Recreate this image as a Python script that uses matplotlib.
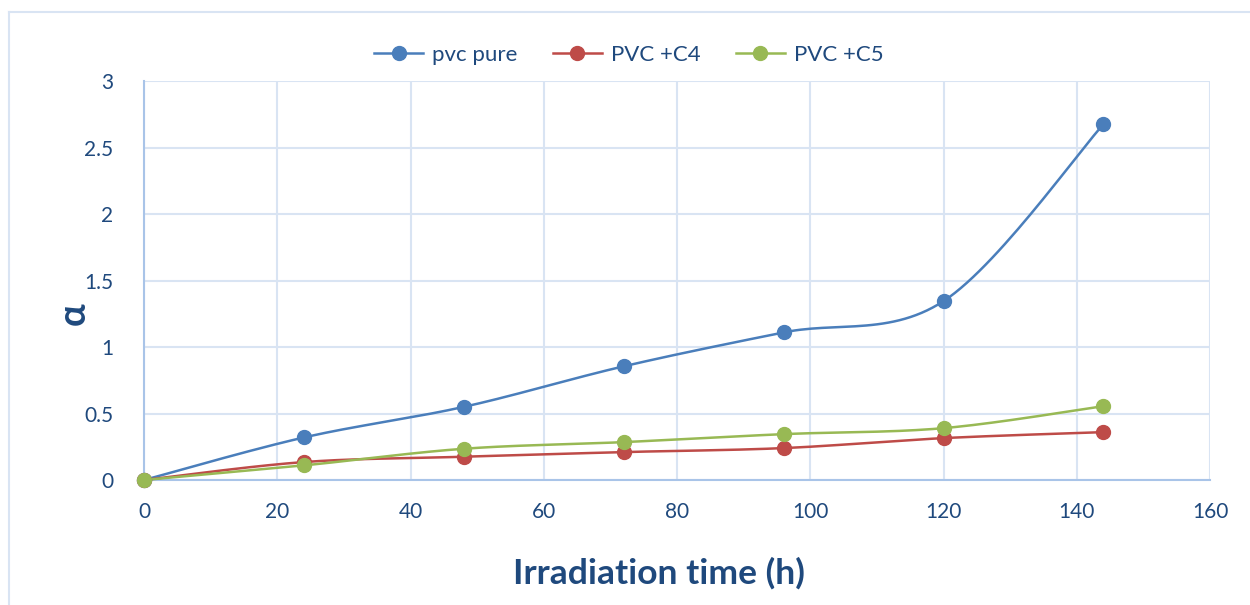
import numpy as np
import matplotlib
matplotlib.use("Agg")
import matplotlib.pyplot as plt
from matplotlib.lines import Line2D

plt.rcParams['font.family'] = ['Lato', 'DejaVu Sans']

# Daten
hours = [0, 24, 48, 72, 96, 120, 144]
pvc_pure = [0.0, 0.32, 0.55, 0.855, 1.11, 1.345, 2.675]
pvc_c4 = [0.0, 0.135, 0.175, 0.21, 0.24, 0.315, 0.36]
pvc_c5 = [0.0, 0.11, 0.235, 0.285, 0.345, 0.39, 0.555]
labels = ["pvc pure", "PVC +C4", "PVC +C5"]
colors = ["#4A7EBB", "#BE4B48", "#98B954"]

text_color = "#1F497D"
grid_color = "#D9E4F3"
spine_color = "#A9C4E8"


# Glatte Linie wie in Excel (Catmull-Rom zwischen den Messpunkten)
def smooth(xs, ys, n=30):
    x = np.asarray(xs, float)
    y = np.asarray(ys, float)
    px = np.concatenate([[x[0]], x, [x[-1]]])
    py = np.concatenate([[y[0]], y, [y[-1]]])
    out_x, out_y = [], []
    t = np.linspace(0, 1, n)
    for i in range(1, len(px) - 2):
        p0x, p1x, p2x, p3x = px[i - 1], px[i], px[i + 1], px[i + 2]
        p0y, p1y, p2y, p3y = py[i - 1], py[i], py[i + 1], py[i + 2]
        b1x = p1x + (p2x - p0x) / 6
        b1y = p1y + (p2y - p0y) / 6
        b2x = p2x - (p3x - p1x) / 6
        b2y = p2y - (p3y - p1y) / 6
        bx = (1 - t) ** 3 * p1x + 3 * (1 - t) ** 2 * t * b1x + 3 * (1 - t) * t ** 2 * b2x + t ** 3 * p2x
        by = (1 - t) ** 3 * p1y + 3 * (1 - t) ** 2 * t * b1y + 3 * (1 - t) * t ** 2 * b2y + t ** 3 * p2y
        out_x.extend(bx)
        out_y.extend(by)
    return out_x, out_y


fig = plt.figure(figsize=(12.5, 6.05), dpi=100)
ax = fig.add_axes([0.1152, 0.2066, 0.8528, 0.6594])

series = [pvc_pure, pvc_c4, pvc_c5]
handles = []
for vals, lab, col in zip(series, labels, colors):
    sx, sy = smooth(hours, vals)
    ax.plot(sx, sy, color=col, lw=1.8, zorder=3)
    ax.plot(hours, vals, linestyle="none", marker="o", ms=10, color=col, zorder=4)
    handles.append(Line2D([], [], color=col, lw=1.8, marker="o", ms=10, label=lab))

ax.set_xlim(0, 160)
ax.set_ylim(0, 3)
ax.set_xticks(range(0, 161, 20))
ax.set_yticks([0, 0.5, 1, 1.5, 2, 2.5, 3])
ax.set_yticklabels(["0", "0.5", "1", "1.5", "2", "2.5", "3"])
ax.grid(True, color=grid_color, lw=1.5)
ax.set_axisbelow(True)
for s in ["top", "right"]:
    ax.spines[s].set_visible(False)
for s in ["left", "bottom"]:
    ax.spines[s].set_color(spine_color)
    ax.spines[s].set_linewidth(1.5)
ax.tick_params(length=0, labelsize=15, colors=text_color)
ax.tick_params(axis="x", pad=16)
ax.tick_params(axis="y", pad=22)
for ln in ax.lines:
    ln.set_clip_on(False)

ax.set_xlabel("Irradiation time (h)", fontsize=25.5, fontweight="bold", color=text_color, va="center")
ax.xaxis.set_label_coords(0.483, -0.233)
ax.set_ylabel("α", fontsize=27, fontweight="bold", color=text_color, va="center")
ax.yaxis.set_label_coords(-0.066, 0.418)

fig.legend(handles=handles, loc="center", bbox_to_anchor=(0.503, 0.909), ncol=3, frameon=False,
           fontsize=16, labelcolor=text_color, handlelength=2.2, columnspacing=1.6, handletextpad=0.4)

# Rahmen des Diagrammbereichs
fig.add_artist(Line2D([9 / 1250, 9 / 1250], [0, 1 - 12 / 605], color=grid_color, lw=1.5))
fig.add_artist(Line2D([9 / 1250, 1], [1 - 12 / 605, 1 - 12 / 605], color=grid_color, lw=1.5))

fig.savefig("out.png", dpi=100)
